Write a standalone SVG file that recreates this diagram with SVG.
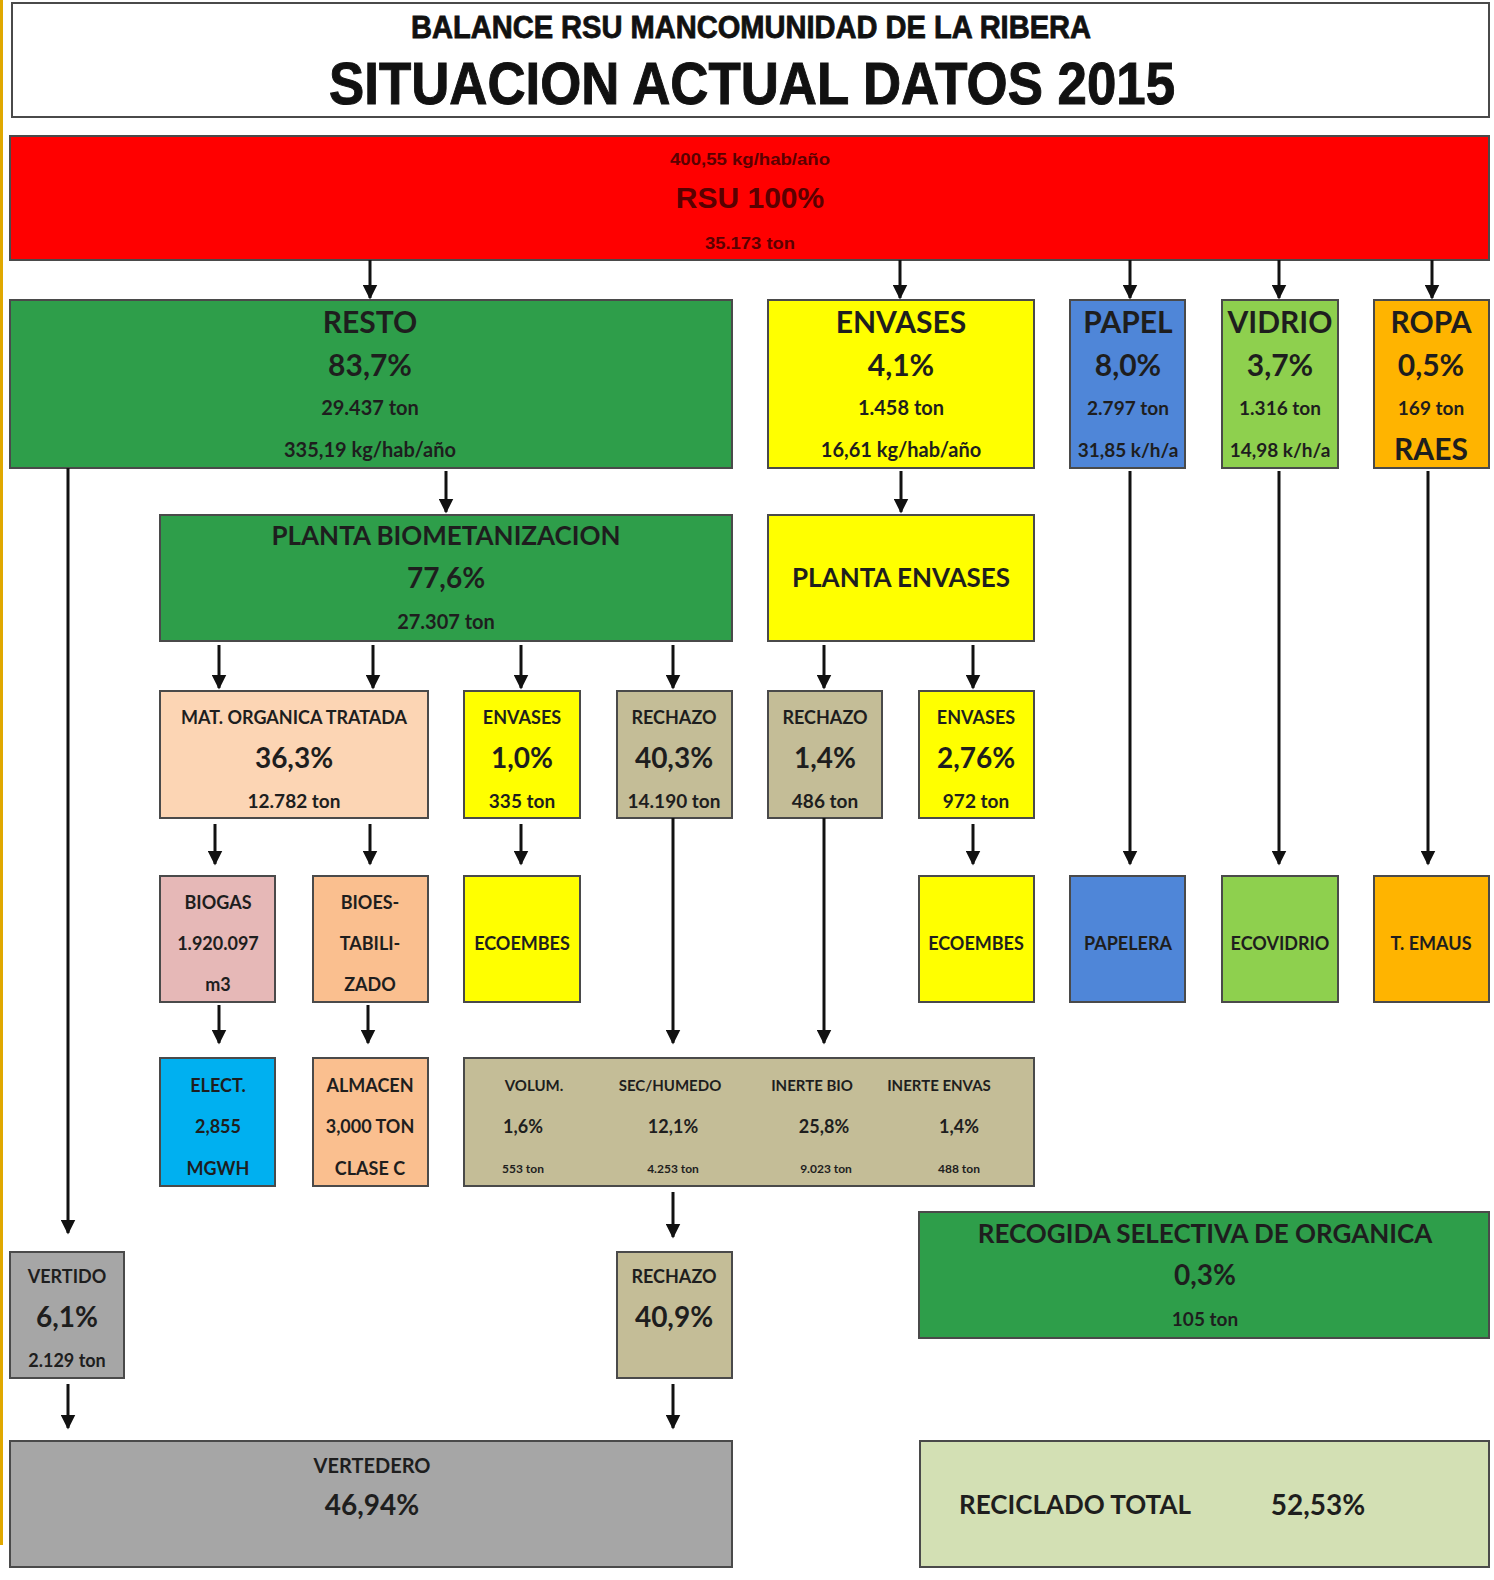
<svg xmlns="http://www.w3.org/2000/svg" width="1494" height="1580" viewBox="0 0 1494 1580">
<style>
.b{stroke:#4a4a4a;stroke-width:2}
.t{font-family:Lato,"Liberation Sans",sans-serif;font-weight:bold;fill:#1e1e1e;text-anchor:middle}
.h{font-family:"Liberation Sans",Arial,sans-serif;font-weight:bold;fill:#111;text-anchor:middle}
.r{font-family:"Liberation Sans",Arial,sans-serif;font-weight:bold;fill:#5a0000;text-anchor:middle}
.c{stroke:#111;stroke-width:3;fill:none;marker-end:url(#ah)}
.s30{font-size:30px}.s28{font-size:28px}.s26{font-size:26px}.s20{font-size:20px}.s19{font-size:19px}.s18{font-size:18px}.s15{font-size:15px}.s12{font-size:12px}
</style>
<defs>
<marker id="ah" markerWidth="5" markerHeight="5" refX="4.5" refY="2.5" orient="auto" markerUnits="strokeWidth"><path d="M0,0 L5,2.5 L0,5 Z" fill="#111"/></marker>
</defs>
<rect width="1494" height="1580" fill="#fff"/>
<rect x="0" y="0" width="3" height="1545" fill="#e0a800"/>
<g id="title">
<rect x="12" y="3" width="1477" height="114" fill="#fff" class="b"/>
<text class="h" x="751" y="38" font-size="31" stroke="#111" stroke-width="0.8" textLength="680" lengthAdjust="spacingAndGlyphs">BALANCE RSU MANCOMUNIDAD DE LA RIBERA</text>
<text class="h" x="752" y="104" font-size="60" stroke="#111" stroke-width="1" textLength="846" lengthAdjust="spacingAndGlyphs">SITUACION ACTUAL DATOS 2015</text>
</g>
<g id="rsu">
<rect x="10" y="136" width="1479" height="124" fill="#ff0000" class="b"/>
<text class="r" x="750" y="165" font-size="17" textLength="160" lengthAdjust="spacingAndGlyphs">400,55 kg/hab/año</text>
<text class="r" x="750" y="208" font-size="30">RSU 100%</text>
<text class="r" x="750" y="249" font-size="17" textLength="90" lengthAdjust="spacingAndGlyphs">35.173 ton</text>
</g>
<g id="resto">
<rect x="10" y="300" width="722" height="168" fill="#2e9e4a" class="b"/>
<text class="t s30" x="370" y="333">RESTO</text>
<text class="t s30" x="370" y="376">83,7%</text>
<text class="t s20" x="370" y="415">29.437 ton</text>
<text class="t s20" x="370" y="457">335,19 kg/hab/año</text>
</g>
<g id="envases">
<rect x="768" y="300" width="266" height="168" fill="#ffff00" class="b"/>
<text class="t s30" x="901" y="333">ENVASES</text>
<text class="t s30" x="901" y="376">4,1%</text>
<text class="t s20" x="901" y="415">1.458 ton</text>
<text class="t s20" x="901" y="457">16,61 kg/hab/año</text>
</g>
<g id="papel">
<rect x="1070" y="300" width="115" height="168" fill="#4f86d8" class="b"/>
<text class="t s30" x="1128" y="333">PAPEL</text>
<text class="t s30" x="1128" y="376">8,0%</text>
<text class="t s19" x="1128" y="415">2.797 ton</text>
<text class="t s19" x="1128" y="457">31,85 k/h/a</text>
</g>
<g id="vidrio">
<rect x="1222" y="300" width="116" height="168" fill="#8ed04e" class="b"/>
<text class="t s30" x="1280" y="333">VIDRIO</text>
<text class="t s30" x="1280" y="376">3,7%</text>
<text class="t s19" x="1280" y="415">1.316 ton</text>
<text class="t s19" x="1280" y="457">14,98 k/h/a</text>
</g>
<g id="ropa">
<rect x="1374" y="300" width="115" height="168" fill="#ffb400" class="b"/>
<text class="t s30" x="1431" y="333">ROPA</text>
<text class="t s30" x="1431" y="376">0,5%</text>
<text class="t s19" x="1431" y="415">169 ton</text>
<text class="t s30" x="1431" y="460">RAES</text>
</g>
<g id="planta-bio">
<rect x="160" y="515" width="572" height="126" fill="#2e9e4a" class="b"/>
<text class="t s26" x="446" y="545">PLANTA BIOMETANIZACION</text>
<text class="t s28" x="446" y="588">77,6%</text>
<text class="t s20" x="446" y="629">27.307 ton</text>
</g>
<g id="planta-env">
<rect x="768" y="515" width="266" height="126" fill="#ffff00" class="b"/>
<text class="t s26" x="901" y="587">PLANTA ENVASES</text>
</g>
<g id="mat-org">
<rect x="160" y="691" width="268" height="127" fill="#fcd5b4" class="b"/>
<text class="t s18" x="294" y="724">MAT. ORGANICA TRATADA</text>
<text class="t s28" x="294" y="768">36,3%</text>
<text class="t s19" x="294" y="808">12.782 ton</text>
</g>
<g id="env-bio">
<rect x="464" y="691" width="116" height="127" fill="#ffff00" class="b"/>
<text class="t s18" x="522" y="724">ENVASES</text>
<text class="t s28" x="522" y="768">1,0%</text>
<text class="t s19" x="522" y="808">335 ton</text>
</g>
<g id="rechazo-bio">
<rect x="617" y="691" width="115" height="127" fill="#c4bd97" class="b"/>
<text class="t s18" x="674" y="724">RECHAZO</text>
<text class="t s28" x="674" y="768">40,3%</text>
<text class="t s19" x="674" y="808">14.190 ton</text>
</g>
<g id="rechazo-env">
<rect x="768" y="691" width="114" height="127" fill="#c4bd97" class="b"/>
<text class="t s18" x="825" y="724">RECHAZO</text>
<text class="t s28" x="825" y="768">1,4%</text>
<text class="t s19" x="825" y="808">486 ton</text>
</g>
<g id="env-env">
<rect x="919" y="691" width="115" height="127" fill="#ffff00" class="b"/>
<text class="t s18" x="976" y="724">ENVASES</text>
<text class="t s28" x="976" y="768">2,76%</text>
<text class="t s19" x="976" y="808">972 ton</text>
</g>
<g id="biogas">
<rect x="160" y="876" width="115" height="126" fill="#e6b8b7" class="b"/>
<text class="t s18" x="218" y="909">BIOGAS</text>
<text class="t s18" x="218" y="950">1.920.097</text>
<text class="t s18" x="218" y="991">m3</text>
</g>
<g id="bioes">
<rect x="313" y="876" width="115" height="126" fill="#fabf8f" class="b"/>
<text class="t s18" x="370" y="909">BIOES-</text>
<text class="t s18" x="370" y="950">TABILI-</text>
<text class="t s18" x="370" y="991">ZADO</text>
</g>
<g id="ecoembes1">
<rect x="464" y="876" width="116" height="126" fill="#ffff00" class="b"/>
<text class="t s18" x="522" y="950">ECOEMBES</text>
</g>
<g id="ecoembes2">
<rect x="919" y="876" width="115" height="126" fill="#ffff00" class="b"/>
<text class="t s18" x="976" y="950">ECOEMBES</text>
</g>
<g id="papelera">
<rect x="1070" y="876" width="115" height="126" fill="#4f86d8" class="b"/>
<text class="t s18" x="1128" y="950">PAPELERA</text>
</g>
<g id="ecovidrio">
<rect x="1222" y="876" width="116" height="126" fill="#8ed04e" class="b"/>
<text class="t s18" x="1280" y="950">ECOVIDRIO</text>
</g>
<g id="temaus">
<rect x="1374" y="876" width="115" height="126" fill="#ffb400" class="b"/>
<text class="t s18" x="1431" y="950">T. EMAUS</text>
</g>
<g id="elect">
<rect x="160" y="1058" width="115" height="128" fill="#00b0f0" class="b"/>
<text class="t s18" x="218" y="1092">ELECT.</text>
<text class="t s18" x="218" y="1133">2,855</text>
<text class="t s18" x="218" y="1175">MGWH</text>
</g>
<g id="almacen">
<rect x="313" y="1058" width="115" height="128" fill="#fabf8f" class="b"/>
<text class="t s18" x="370" y="1092">ALMACEN</text>
<text class="t s18" x="370" y="1133">3,000 TON</text>
<text class="t s18" x="370" y="1175">CLASE C</text>
</g>
<g id="desglose">
<rect x="464" y="1058" width="570" height="128" fill="#c4bd97" class="b"/>
<text class="t s15" x="534" y="1091">VOLUM.</text>
<text class="t s15" x="670" y="1091">SEC/HUMEDO</text>
<text class="t s15" x="812" y="1091">INERTE BIO</text>
<text class="t s15" x="939" y="1091">INERTE ENVAS</text>
<text class="t s18" x="523" y="1133">1,6%</text>
<text class="t s18" x="673" y="1133">12,1%</text>
<text class="t s18" x="824" y="1133">25,8%</text>
<text class="t s18" x="959" y="1133">1,4%</text>
<text class="t s12" x="523" y="1173">553 ton</text>
<text class="t s12" x="673" y="1173">4.253 ton</text>
<text class="t s12" x="826" y="1173">9.023 ton</text>
<text class="t s12" x="959" y="1173">488 ton</text>
</g>
<g id="vertido">
<rect x="10" y="1252" width="114" height="126" fill="#a6a6a6" class="b"/>
<text class="t s18" x="67" y="1283">VERTIDO</text>
<text class="t s28" x="67" y="1327">6,1%</text>
<text class="t s18" x="67" y="1367">2.129 ton</text>
</g>
<g id="rechazo-final">
<rect x="617" y="1252" width="115" height="126" fill="#c4bd97" class="b"/>
<text class="t s18" x="674" y="1283">RECHAZO</text>
<text class="t s28" x="674" y="1327">40,9%</text>
</g>
<g id="recogida">
<rect x="919" y="1212" width="570" height="126" fill="#2e9e4a" class="b"/>
<text class="t s26" x="1205" y="1243">RECOGIDA SELECTIVA DE ORGANICA</text>
<text class="t s28" x="1205" y="1285">0,3%</text>
<text class="t s19" x="1205" y="1326">105 ton</text>
</g>
<g id="vertedero">
<rect x="10" y="1441" width="722" height="126" fill="#a6a6a6" class="b"/>
<text class="t s20" x="372" y="1473">VERTEDERO</text>
<text class="t s28" x="372" y="1515">46,94%</text>
</g>
<g id="reciclado">
<rect x="920" y="1441" width="569" height="126" fill="#d3e0b4" class="b"/>
<text class="t s26" x="1075" y="1514">RECICLADO TOTAL</text>
<text class="t s28" x="1318" y="1515">52,53%</text>
</g>
<g id="connectors">
<path class="c" d="M370,260 V298"/>
<path class="c" d="M900,260 V298"/>
<path class="c" d="M1130,260 V298"/>
<path class="c" d="M1279,260 V298"/>
<path class="c" d="M1432,260 V298"/>
<path class="c" d="M68,468 V1233"/>
<path class="c" d="M446,471 V512"/>
<path class="c" d="M901,471 V512"/>
<path class="c" d="M1130,471 V864"/>
<path class="c" d="M1279,471 V864"/>
<path class="c" d="M1428,471 V864"/>
<path class="c" d="M219,645 V688"/>
<path class="c" d="M373,645 V688"/>
<path class="c" d="M521,645 V688"/>
<path class="c" d="M673,645 V688"/>
<path class="c" d="M824,645 V688"/>
<path class="c" d="M973,645 V688"/>
<path class="c" d="M215,824 V864"/>
<path class="c" d="M370,824 V864"/>
<path class="c" d="M521,824 V864"/>
<path class="c" d="M973,824 V864"/>
<path class="c" d="M673,818 V1043"/>
<path class="c" d="M824,818 V1043"/>
<path class="c" d="M219,1005 V1043"/>
<path class="c" d="M368,1005 V1043"/>
<path class="c" d="M673,1192 V1237"/>
<path class="c" d="M68,1384 V1428"/>
<path class="c" d="M673,1384 V1428"/>
</g>
</svg>
